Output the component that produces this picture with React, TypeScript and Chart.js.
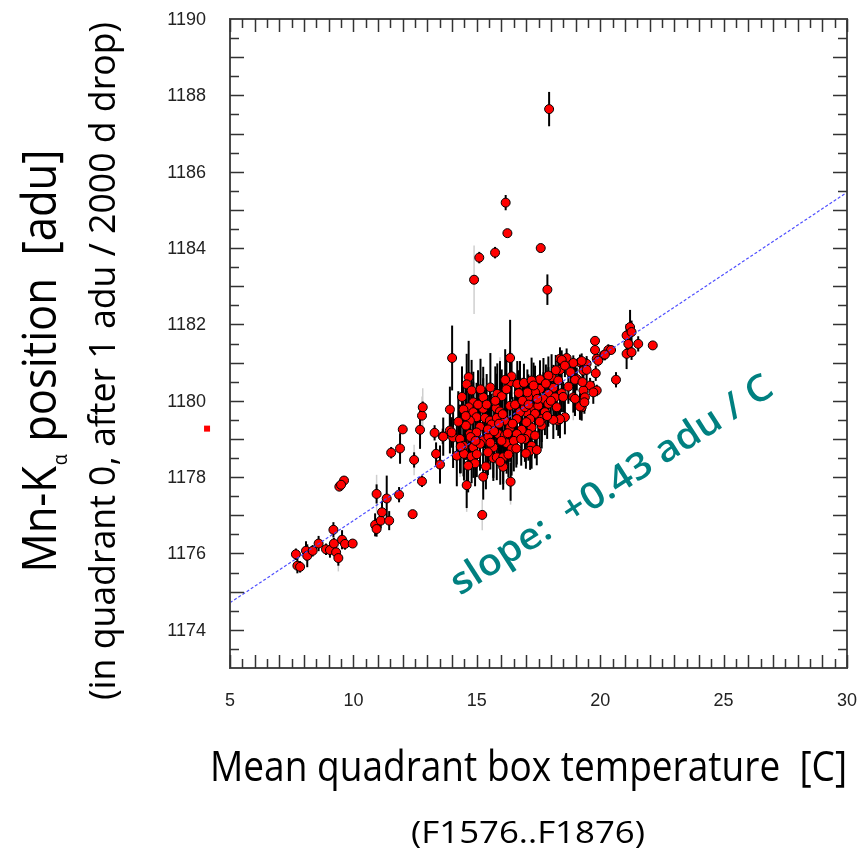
import React, { useEffect, useRef } from "react";
import { Chart, registerables } from "chart.js";

Chart.register(...registerables);

// ---------- data ----------
// left, sparse part of the run
const tempLeft = [7.67, 7.73, 7.84, 8.08, 8.13, 8.35, 8.59, 8.89, 9.05, 9.19, 9.21, 9.3, 9.39, 9.54, 9.66, 9.97, 9.43, 9.62, 9.5, 10.88, 10.94, 11.11, 11.16, 10.94, 11.35, 11.45, 11.85, 11.53, 11.89, 12.0, 12.4, 12.46, 12.78, 12.7, 12.78, 12.81, 13.29, 13.35, 13.51, 13.62, 14.0];
const posLeft = [1175.98, 1175.68, 1175.65, 1176.07, 1175.94, 1176.07, 1176.26, 1176.11, 1176.09, 1176.62, 1176.26, 1176.03, 1175.88, 1176.36, 1176.25, 1176.26, 1177.75, 1177.91, 1177.8, 1176.75, 1176.64, 1176.86, 1177.08, 1177.56, 1177.44, 1176.86, 1177.54, 1178.64, 1178.75, 1179.25, 1177.03, 1178.45, 1177.89, 1179.24, 1179.61, 1179.83, 1179.16, 1178.61, 1178.33, 1179.07, 1181.12];
const errLeft = [0.15, 0.2, 0.15, 0.25, 0.3, 0.15, 0.2, 0.15, 0.2, 0.2, 0.15, 0.2, 0.2, 0.25, 0.15, 0.1, 0.1, 0.1, 0.1, 0.3, 0.2, 0.2, 0.3, 0.25, 0.6, 0.25, 0.2, 0.15, 0.4, 0.1, 0.1, 0.2, 0.15, 0.5, 0.1, 0.15, 0.2, 0.3, 0.5, 0.2, 0.85];

// outliers well above the trend
const tempHigh = [17.93, 16.17, 16.24, 15.1, 15.74, 14.89, 17.59, 17.86];
const posHigh = [1187.64, 1185.19, 1184.39, 1183.75, 1183.88, 1183.17, 1184.0, 1182.91];
const errHigh = [0.45, 0.2, 0.1, 0.15, 0.15, 0.1, 0.1, 0.4];

// warm end of the run
const tempWarm = [21.07, 21.21, 21.27, 21.14, 21.07, 21.27, 21.54, 22.13, 20.64, 19.79, 19.79, 20.33, 20.13, 19.86, 19.45, 19.18, 18.64, 18.37, 19.32, 19.05, 19.59, 19.86, 19.32, 19.32, 19.25, 18.91, 18.57, 18.3, 20.44, 18.44, 18.91, 19.25, 19.92, 20.19, 18.37, 18.57, 19.45, 19.82, 18.03, 18.3, 18.98, 19.28, 17.7, 17.56, 18.1, 18.71, 19.72, 17.36, 17.9, 18.44, 17.09, 17.7, 18.17, 18.98, 19.38, 19.18, 19.36, 17.22, 17.49, 17.9, 18.24, 17.01, 17.36, 17.76, 18.37, 18.1, 17.16, 17.63, 17.22, 17.63, 17.09, 17.36, 17.22, 17.16];
const posWarm = [1181.71, 1181.93, 1181.8, 1181.49, 1181.23, 1181.27, 1181.49, 1181.45, 1180.55, 1181.57, 1181.33, 1181.33, 1181.19, 1181.1, 1180.97, 1181.01, 1181.12, 1181.1, 1180.79, 1180.57, 1180.4, 1180.27, 1180.27, 1180.01, 1179.83, 1180.09, 1179.57, 1179.48, 1181.33, 1181.07, 1180.99, 1181.04, 1181.05, 1181.21, 1180.81, 1180.92, 1180.81, 1180.72, 1180.62, 1180.53, 1180.55, 1180.49, 1180.42, 1180.31, 1180.34, 1180.37, 1180.22, 1180.22, 1180.18, 1180.2, 1180.09, 1180.05, 1180.09, 1180.05, 1180.09, 1179.85, 1179.96, 1179.83, 1179.87, 1179.92, 1179.83, 1179.7, 1179.66, 1179.7, 1179.52, 1179.5, 1179.52, 1179.52, 1179.3, 1179.35, 1179.13, 1179.09, 1178.82, 1178.69];
const errWarm = [0.3, 0.45, 0.3, 0.3, 0.4, 0.2, 0.2, 0.1, 0.2, 0.1, 0.15, 0.15, 0.1, 0.15, 0.2, 0.2, 0.25, 0.3, 0.2, 0.3, 0.2, 0.15, 0.3, 0.3, 0.35, 0.4, 0.45, 0.4, 0.1, 0.25, 0.2, 0.2, 0.15, 0.15, 0.35, 0.3, 0.3, 0.2, 0.6, 0.5, 0.35, 0.3, 0.7, 0.7, 0.6, 0.45, 0.3, 0.7, 0.7, 0.5, 0.6, 0.7, 0.6, 0.45, 0.35, 0.35, 0.3, 0.75, 0.7, 0.6, 0.6, 0.75, 0.7, 0.6, 0.5, 0.5, 0.75, 0.6, 0.75, 0.6, 0.7, 0.6, 0.6, 0.5];

// dense middle of the run
const tempMid = [13.91, 13.64, 14.59, 16.37, 15.26, 16.35, 16.35, 16.41, 14.67, 14.59, 14.79, 15.26, 15.94, 16.75, 17.56, 17.9, 16.64, 16.91, 17.05, 15.83, 16.01, 14.86, 14.67, 14.46, 14.86, 15.26, 15.78, 15.94, 16.35, 16.55, 16.75, 16.95, 14.99, 14.72, 15.33, 15.53, 15.81, 16.14, 16.62, 17.01, 14.56, 15.13, 15.6, 16.35, 16.82, 13.91, 14.04, 14.32, 14.72, 14.99, 15.26, 15.47, 15.87, 16.14, 16.62, 16.95, 14.46, 14.86, 15.13, 15.67, 16.21, 16.41, 14.19, 14.48, 14.79, 15.67, 15.81, 16.07, 16.28, 14.93, 15.37, 16.07, 15.22, 16.99, 17.43, 17.22, 13.98];
const posMid = [1179.77, 1179.06, 1177.79, 1177.88, 1178.01, 1181.12, 1180.49, 1180.64, 1180.62, 1180.43, 1180.27, 1180.09, 1180.14, 1180.44, 1180.56, 1180.66, 1180.44, 1180.47, 1180.22, 1180.18, 1180.12, 1179.96, 1179.83, 1179.77, 1179.7, 1179.79, 1179.81, 1179.72, 1179.87, 1179.9, 1179.7, 1179.83, 1179.57, 1179.48, 1179.55, 1179.48, 1179.55, 1179.48, 1179.52, 1179.44, 1179.35, 1179.32, 1179.38, 1179.3, 1179.24, 1179.22, 1179.04, 1179.0, 1179.13, 1179.17, 1178.96, 1179.06, 1179.13, 1179.09, 1179.13, 1179.0, 1178.82, 1178.78, 1178.87, 1178.78, 1178.89, 1178.74, 1178.56, 1178.61, 1178.54, 1178.5, 1178.52, 1178.52, 1178.59, 1178.36, 1178.28, 1178.27, 1177.01, 1178.62, 1178.71, 1180.53, 1179.17];
const errMid = [0.6, 0.5, 0.6, 0.5, 0.6, 1.0, 0.8, 0.6, 0.95, 0.8, 0.8, 0.8, 0.9, 0.6, 0.5, 0.5, 0.6, 0.5, 0.6, 0.8, 0.7, 0.8, 0.9, 0.7, 0.8, 0.8, 0.9, 0.8, 0.8, 0.7, 0.8, 0.6, 0.9, 0.8, 0.8, 0.9, 0.8, 0.9, 0.8, 0.6, 0.9, 0.8, 0.8, 0.9, 0.7, 0.6, 0.8, 0.9, 0.8, 0.9, 0.8, 0.8, 0.8, 0.9, 0.8, 0.6, 0.8, 0.8, 0.7, 0.8, 0.8, 0.7, 0.8, 0.7, 0.7, 0.6, 0.6, 0.7, 0.6, 0.6, 0.6, 0.6, 0.1, 0.4, 0.4, 0.6, 0.4];

// further frames filling the dense middle
const tempFill = [14.4, 14.55, 14.75, 14.95, 15.05, 15.15, 15.4, 15.45, 15.55, 15.7, 15.75, 15.9, 16.0, 16.05, 16.2, 16.25, 16.45, 16.5, 16.7, 16.8, 16.85, 17.1, 17.3, 17.45, 17.55, 17.8, 17.85, 18.0, 18.2, 18.5, 18.8, 14.35, 14.65, 15.0, 15.45, 15.95, 16.6, 16.15, 15.55, 14.25];
const posFill = [1180.1, 1179.6, 1179.05, 1178.95, 1179.9, 1180.3, 1179.9, 1179.25, 1178.9, 1179.2, 1180.0, 1179.4, 1178.95, 1179.65, 1180.3, 1179.15, 1179.4, 1178.95, 1180.2, 1179.0, 1180.0, 1179.9, 1180.4, 1180.05, 1179.45, 1180.45, 1179.6, 1180.0, 1180.8, 1180.1, 1180.75, 1178.8, 1178.3, 1178.6, 1178.65, 1178.4, 1178.75, 1180.55, 1180.35, 1179.45];
const errFill = [0.8, 0.9, 0.8, 0.7, 0.9, 0.8, 0.8, 0.9, 0.7, 0.8, 0.9, 0.8, 0.7, 0.9, 0.8, 0.8, 0.7, 0.8, 0.6, 0.7, 0.6, 0.7, 0.6, 0.6, 0.7, 0.5, 0.6, 0.5, 0.4, 0.4, 0.3, 0.7, 0.7, 0.6, 0.6, 0.6, 0.5, 0.8, 0.9, 0.8];

// faint (low weight) error bars
const faintTemp = [14.89, 12.81, 12.78, 10.94, 12.46, 9.39, 10.88, 14.59, 16.37, 15.26, 15.22, 18.91, 19.05, 15.94, 14.32, 17.01, 16.62];
const faintPos = [1183.17, 1179.83, 1179.61, 1177.56, 1178.45, 1175.88, 1176.75, 1177.79, 1177.88, 1178.01, 1177.01, 1180.09, 1180.57, 1180.14, 1179.0, 1179.44, 1179.52];
const faintErr = [0.9, 0.5, 0.5, 0.5, 0.4, 0.35, 0.3, 0.7, 0.6, 0.5, 0.4, 0.6, 0.5, 1.0, 1.0, 0.9, 1.1];

// one frame outside the plotted temperature range
const offTemp = [4.07];
const offPos = [1179.27];

// linear fit
const fitTemp = [5, 30];
const fitIntercept = 1174.71; // at 5 C
const fitSlope = 0.43;

const xTickLabels = [5, 10, 15, 20, 25, 30];
const yTickLabels = [1174, 1176, 1178, 1180, 1182, 1184, 1186, 1188, 1190];
const X_MIN = 5, X_MAX = 30, Y_MIN = 1173, Y_MAX = 1190;

const allTemp = [...tempLeft, ...tempHigh, ...tempWarm, ...tempMid, ...tempFill];
const allPos = [...posLeft, ...posHigh, ...posWarm, ...posMid, ...posFill];
const allErr = [...errLeft, ...errHigh, ...errWarm, ...errMid, ...errFill];

const TITLE_FONT = '"Open Sans", "DejaVu Sans", sans-serif';
const TICK_FONT = '"Liberation Sans", Arial, sans-serif';

function drawFitted(ctx: CanvasRenderingContext2D, text: string, font: string, width: number, align: "left" | "center") {
  ctx.font = font;
  const w = ctx.measureText(text).width;
  const s = width / w;
  ctx.save();
  ctx.scale(s, 1);
  ctx.textAlign = "left";
  ctx.textBaseline = "alphabetic";
  ctx.fillText(text, align === "center" ? -w / 2 : 0, 0);
  ctx.restore();
}

const decorPlugin = {
  id: "decor",
  beforeDatasetsDraw(chart: any) {
    const { ctx, scales } = chart;
    const x = scales.x, y = scales.y;
    ctx.save();
    ctx.lineCap = "butt";
    // faint bars
    ctx.strokeStyle = "#cfcfcf";
    ctx.lineWidth = 1.5;
    for (let i = 0; i < faintTemp.length; i++) {
      const px = x.getPixelForValue(faintTemp[i]);
      ctx.beginPath();
      ctx.moveTo(px, y.getPixelForValue(faintPos[i] - faintErr[i]));
      ctx.lineTo(px, y.getPixelForValue(faintPos[i] + faintErr[i]));
      ctx.stroke();
    }
    // black error bars
    ctx.strokeStyle = "#000";
    ctx.lineWidth = 2;
    for (let i = 0; i < allTemp.length; i++) {
      const px = x.getPixelForValue(allTemp[i]);
      ctx.beginPath();
      ctx.moveTo(px, y.getPixelForValue(allPos[i] - allErr[i]));
      ctx.lineTo(px, y.getPixelForValue(allPos[i] + allErr[i]));
      ctx.stroke();
    }
    ctx.restore();
  },
  afterDatasetsDraw(chart: any) {
    const { ctx, chartArea: a, scales } = chart;
    const x = scales.x, y = scales.y;
    ctx.save();

    // frame
    ctx.strokeStyle = "#4a4a4a";
    ctx.lineWidth = 2;
    ctx.strokeRect(a.left, a.top, a.right - a.left, a.bottom - a.top);

    // inward ticks
    ctx.strokeStyle = "#333";
    ctx.lineWidth = 1.5;
    for (let v = X_MIN; v <= X_MAX + 1e-9; v += 0.5) {
      const px = Math.round(x.getPixelForValue(v)) + 0.5;
      const len = Math.abs(v - Math.round(v)) < 1e-9 ? 13 : 9;
      ctx.beginPath();
      ctx.moveTo(px, a.bottom); ctx.lineTo(px, a.bottom - len);
      ctx.moveTo(px, a.top); ctx.lineTo(px, a.top + len);
      ctx.stroke();
    }
    for (let v = Y_MIN + 0.5; v < Y_MAX - 1e-9; v += 0.5) {
      const py = Math.round(y.getPixelForValue(v)) + 0.5;
      const len = Math.abs(v - Math.round(v)) < 1e-9 ? 14 : 9;
      ctx.beginPath();
      ctx.moveTo(a.left, py); ctx.lineTo(a.left + len, py);
      ctx.moveTo(a.right, py); ctx.lineTo(a.right - len, py);
      ctx.stroke();
    }

    // tick labels
    ctx.fillStyle = "#222";
    ctx.font = `18px ${TICK_FONT}`;
    ctx.textAlign = "center";
    ctx.textBaseline = "middle";
    xTickLabels.forEach((v) => ctx.fillText(String(v), x.getPixelForValue(v), 701));
    ctx.textAlign = "right";
    yTickLabels.forEach((v) => ctx.fillText(String(v), 206, y.getPixelForValue(v) + 1));

    // outside point
    ctx.fillStyle = "#ff0000";
    offTemp.forEach((t, i) => {
      const px = x.getPixelForValue(t), py = y.getPixelForValue(offPos[i]);
      ctx.fillRect(px - 3, py - 3, 6, 6);
    });

    // axis titles
    ctx.fillStyle = "#000";
    ctx.save();
    ctx.translate(528.5, 781);
    drawFitted(ctx, "Mean quadrant box temperature  [C]", `42px ${TITLE_FONT}`, 637, "center");
    ctx.restore();
    ctx.save();
    ctx.translate(528, 843);
    drawFitted(ctx, "(F1576..F1876)", `31px ${TITLE_FONT}`, 234, "center");
    ctx.restore();

    // y title line 1 with subscript alpha
    ctx.save();
    ctx.translate(56, 361);
    ctx.rotate(-Math.PI / 2);
    const big = `48px ${TITLE_FONT}`, small = `20px ${TITLE_FONT}`;
    const p1 = "Mn-K", p2 = "\u03b1", p3 = " position  [adu]";
    ctx.font = big; const w1 = ctx.measureText(p1).width; const w3 = ctx.measureText(p3).width;
    ctx.font = small; const w2 = ctx.measureText(p2).width + 2;
    const tot = w1 + w2 + w3;
    const s = 423 / tot;
    ctx.scale(s, 1);
    ctx.textAlign = "left"; ctx.textBaseline = "alphabetic";
    let cx = -tot / 2;
    ctx.font = big; ctx.fillText(p1, cx, 0); cx += w1;
    ctx.font = small; ctx.fillText(p2, cx + 1, 11); cx += w2;
    ctx.font = big; ctx.fillText(p3, cx, 0);
    ctx.restore();

    // y title line 2
    ctx.save();
    ctx.translate(115, 361);
    ctx.rotate(-Math.PI / 2);
    drawFitted(ctx, "(in quadrant 0, after 1 adu / 2000 d drop)", `36px ${TITLE_FONT}`, 678, "center");
    ctx.restore();

    // slope annotation
    ctx.save();
    ctx.fillStyle = "#008080";
    ctx.translate(460, 596);
    ctx.rotate((-32.7 * Math.PI) / 180);
    drawFitted(ctx, "slope:  +0.43 adu / C", `600 37px ${TITLE_FONT}`, 375, "left");
    ctx.restore();

    ctx.restore();
  },
};

export default function App() {
  const ref = useRef<HTMLCanvasElement>(null);
  useEffect(() => {
    const canvas = ref.current;
    if (!canvas) return;
    const points = allTemp.map((t, i) => ({ x: t, y: allPos[i] }));
    const fitLine = fitTemp.map((t) => ({ x: t, y: fitIntercept + fitSlope * (t - fitTemp[0]) }));
    const chart = new Chart(canvas, {
      type: "scatter",
      data: {
        datasets: [
          {
            label: "fit",
            data: fitLine,
            showLine: true,
            borderColor: "rgba(70,70,255,0.95)",
            borderWidth: 1.2,
            borderDash: [3, 2],
            pointRadius: 0,
            pointHoverRadius: 0,
          },
          {
            label: "Mn-Ka",
            data: points,
            pointStyle: "circle",
            pointRadius: 4.5,
            pointBackgroundColor: "#ff0000",
            pointBorderColor: "#000",
            pointBorderWidth: 1,
          },
        ],
      },
      options: {
        responsive: false,
        animation: false,
        devicePixelRatio: 1,
        layout: { padding: { left: 230, right: 11, top: 19, bottom: 183 } },
        plugins: { legend: { display: false }, tooltip: { enabled: false } },
        events: [],
        scales: {
          x: { type: "linear", min: X_MIN, max: X_MAX, display: false },
          y: { type: "linear", min: Y_MIN, max: Y_MAX, display: false },
        },
      },
      plugins: [decorPlugin],
    });
    return () => chart.destroy();
  }, []);
  return (
    <div style={{ position: "absolute", left: 0, top: 0, width: 858, height: 851, background: "#fff" }}>
      <canvas ref={ref} width={858} height={851} style={{ display: "block", width: 858, height: 851 }} />
    </div>
  );
}
